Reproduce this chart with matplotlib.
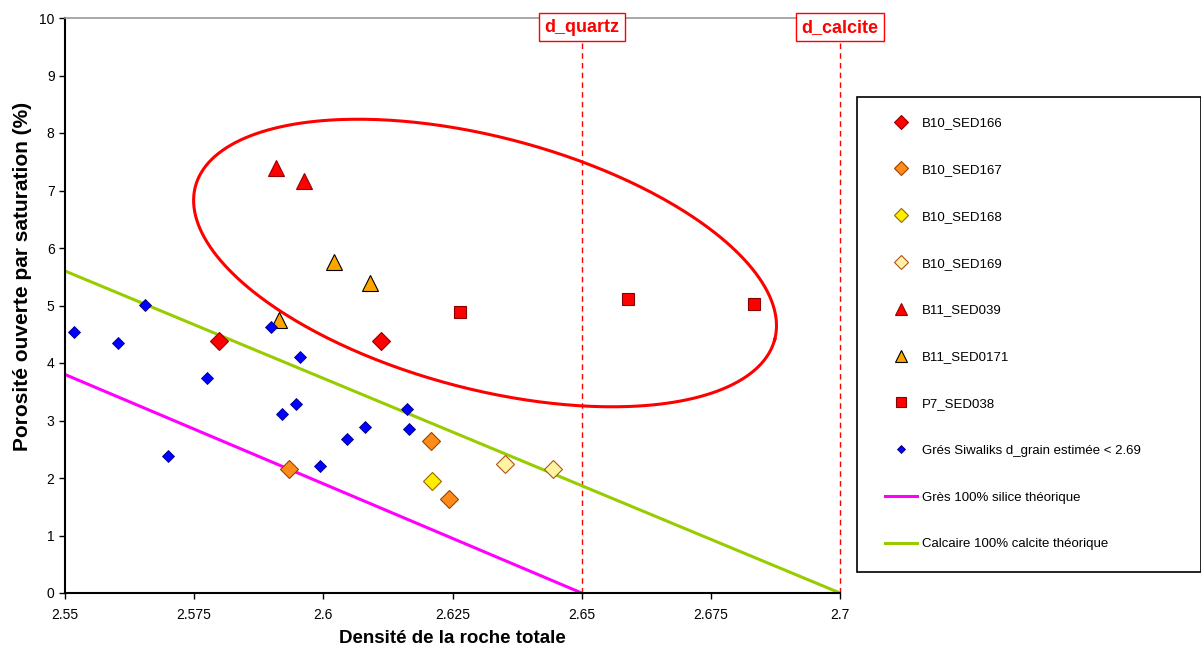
import numpy as np
import matplotlib
matplotlib.use("Agg")
import matplotlib.pyplot as plt
from matplotlib.patches import Rectangle

plt.rcParams['font.family'] = ['Liberation Sans', 'DejaVu Sans']

# sample series (density, open porosity %)
sed166_x = [2.5798, 2.6111]
sed166_y = [4.38, 4.39]
sed167_x = [2.5934, 2.6208, 2.6244]
sed167_y = [2.15, 2.65, 1.63]
sed168_x = [2.6210]
sed168_y = [1.95]
sed169_x = [2.6352, 2.6445]
sed169_y = [2.25, 2.16]
sed039_x = [2.5908, 2.5963]
sed039_y = [7.40, 7.17]
sed0171_x = [2.5915, 2.6021, 2.6091]
sed0171_y = [4.74, 5.75, 5.39]
p7_x = [2.6265, 2.6590, 2.6833]
p7_y = [4.89, 5.11, 5.03]
siw_x = [2.5517, 2.5603, 2.5655, 2.5699, 2.5775, 2.5899, 2.5920, 2.5947,
         2.5955, 2.5994, 2.6046, 2.6081, 2.6162, 2.6166]
siw_y = [4.54, 4.35, 5.01, 2.38, 3.74, 4.63, 3.11, 3.29,
         4.10, 2.21, 2.68, 2.89, 3.20, 2.85]

# theoretical lines
silice_x = [2.55, 2.65]
silice_y = [3.8, 0]
calcite_x = [2.55, 2.7]
calcite_y = [5.6, 0]

d_quartz = 2.65
d_calcite = 2.7

fig = plt.figure(figsize=(12.01, 6.55), dpi=100)
ax = fig.add_axes([65/1201, 1 - 593/655, 775/1201, 575/655])

ax.plot(silice_x, silice_y, color='#FF00FF', lw=2.2, label='Grès 100% silice théorique', zorder=2)
ax.plot(calcite_x, calcite_y, color='#99CC00', lw=2.2, label='Calcaire 100% calcite théorique', zorder=2)

ax.axvline(d_quartz, color='#FF0000', ls=(0, (4, 3)), lw=1, zorder=1)
ax.axvline(d_calcite, color='#FF0000', ls=(0, (4, 3)), lw=1, zorder=1, clip_on=False)

kw = dict(ls='none', zorder=4)
h1, = ax.plot(sed166_x, sed166_y, marker='D', ms=9, mfc='#FF0000', mec='#990000', mew=0.8, label='B10_SED166', **kw)
h2, = ax.plot(sed167_x, sed167_y, marker='D', ms=9, mfc='#FF8C1A', mec='#994400', mew=0.8, label='B10_SED167', **kw)
h3, = ax.plot(sed168_x, sed168_y, marker='D', ms=9, mfc='#FFEE00', mec='#996600', mew=0.8, label='B10_SED168', **kw)
h4, = ax.plot(sed169_x, sed169_y, marker='D', ms=9, mfc='#FFF2A0', mec='#AA5522', mew=0.8, label='B10_SED169', **kw)
h5, = ax.plot(sed039_x, sed039_y, marker='^', ms=11, mfc='#FF0000', mec='#990000', mew=0.8, label='B11_SED039', **kw)
h6, = ax.plot(sed0171_x, sed0171_y, marker='^', ms=11, mfc='#FFA500', mec='#000000', mew=0.8, label='B11_SED0171', **kw)
h7, = ax.plot(p7_x, p7_y, marker='s', ms=9, mfc='#FF0000', mec='#880000', mew=0.8, label='P7_SED038', **kw)
h8, = ax.plot(siw_x, siw_y, marker='D', ms=6, mfc='#0000FF', mec='#000080', mew=0.6,
              label='Grés Siwaliks d_grain estimée < 2.69', **kw)

# highlight ellipse (built in pixel space, then mapped to data units)
cx, cy = 2.6313, 5.739
a_px, b_px, theta = 299.6, 125.9, np.deg2rad(14.8)
px_per_x = 775 / 0.15
px_per_y = 57.5
t = np.linspace(0, 2 * np.pi, 400)
dx = a_px * np.cos(t) * np.cos(theta) - b_px * np.sin(t) * np.sin(theta)
dy = a_px * np.cos(t) * np.sin(theta) + b_px * np.sin(t) * np.cos(theta)
ax.plot(cx + dx / px_per_x, cy - dy / px_per_y, color='#FF0000', lw=2.2, zorder=3)

ax.set_xlim(2.55, 2.7)
ax.set_ylim(0, 10)
ax.set_xticks([2.55, 2.575, 2.6, 2.625, 2.65, 2.675, 2.7])
ax.set_xticklabels(['2.55', '2.575', '2.6', '2.625', '2.65', '2.675', '2.7'])
ax.set_yticks(range(0, 11))
ax.tick_params(axis='both', labelsize=10, direction='out', length=4, width=1)
ax.tick_params(axis='x', pad=7)

for s in ['left', 'bottom']:
    ax.spines[s].set_linewidth(1.5)
    ax.spines[s].set_color('black')
ax.spines['top'].set_color('#999999')
ax.spines['top'].set_linewidth(1.2)
ax.spines['right'].set_visible(False)

ax.set_xlabel('Densité de la roche totale', fontsize=13.5, fontweight='bold')
ax.xaxis.set_label_coords(0.5, -0.064)
ax.set_ylabel('Porosité ouverte par saturation (%)', fontsize=15, fontweight='bold')
ax.yaxis.set_label_coords(-0.043, 0.55)

box = dict(boxstyle='square,pad=0.3', fc='white', ec='#FF0000', lw=1)
for xv, lab in [(d_quartz, 'd_quartz'), (d_calcite, 'd_calcite')]:
    ax.text(xv, 9.84, lab, color='#FF0000', fontsize=13, fontweight='bold',
            ha='center', va='center', bbox=box, clip_on=False, zorder=5)

# legend frame
fig.patches.append(Rectangle((857/1201, 1 - 572/655), 344/1201, 475/655,
                             transform=fig.transFigure, fill=False, ec='black', lw=1.2))
handles = [h1, h2, h3, h4, h5, h6, h7, h8] + ax.get_lines()[:2]
fig.legend(handles=handles, loc='upper left', bbox_to_anchor=(885/1201, 1 - 117/655),
           frameon=False, fontsize=9.5, labelspacing=2.62, handlelength=2.4,
           handletextpad=0.4, borderpad=0, borderaxespad=0, markerscale=0.75)

fig.savefig('out.png', dpi=100)
